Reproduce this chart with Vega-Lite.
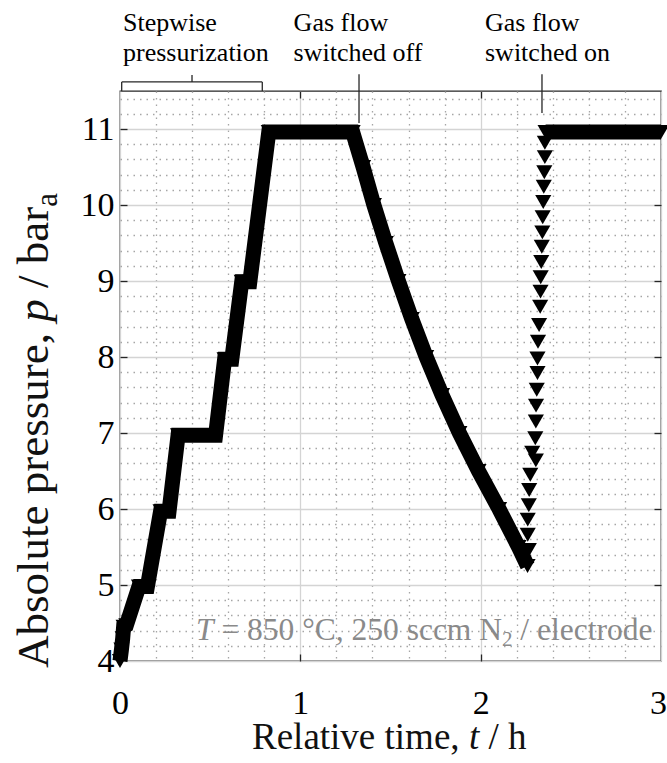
{
  "$schema": "https://vega.github.io/schema/vega-lite/v6.json",
  "width": 541,
  "height": 570,
  "autosize": {"type": "none"},
  "padding": {"left": 120, "top": 91, "right": 6, "bottom": 102},
  "config": {"view": {"stroke": "#262626", "strokeWidth": 1.3}, "font": "Liberation Serif"},
  "datasets": {
    "traj": [
      {"t": 0.0, "p": 4.0, "seg": "a"},
      {"t": 0.008, "p": 4.15, "seg": "a"},
      {"t": 0.015, "p": 4.3, "seg": "a"},
      {"t": 0.02, "p": 4.45, "seg": "a"},
      {"t": 0.035, "p": 4.47, "seg": "a"},
      {"t": 0.105, "p": 4.98, "seg": "a"},
      {"t": 0.152, "p": 4.98, "seg": "a"},
      {"t": 0.225, "p": 5.97, "seg": "a"},
      {"t": 0.272, "p": 5.97, "seg": "a"},
      {"t": 0.322, "p": 6.97, "seg": "a"},
      {"t": 0.53, "p": 6.97, "seg": "a"},
      {"t": 0.58, "p": 7.97, "seg": "a"},
      {"t": 0.62, "p": 7.97, "seg": "a"},
      {"t": 0.675, "p": 8.99, "seg": "a"},
      {"t": 0.72, "p": 8.99, "seg": "a"},
      {"t": 0.825, "p": 10.96, "seg": "a"},
      {"t": 1.29, "p": 10.96, "seg": "a"},
      {"t": 1.348, "p": 10.5, "seg": "a"},
      {"t": 1.408, "p": 10.0, "seg": "a"},
      {"t": 1.474, "p": 9.5, "seg": "a"},
      {"t": 1.544, "p": 9.0, "seg": "a"},
      {"t": 1.618, "p": 8.5, "seg": "a"},
      {"t": 1.698, "p": 8.0, "seg": "a"},
      {"t": 1.786, "p": 7.5, "seg": "a"},
      {"t": 1.882, "p": 7.0, "seg": "a"},
      {"t": 1.988, "p": 6.5, "seg": "a"},
      {"t": 2.102, "p": 6.0, "seg": "a"},
      {"t": 2.21, "p": 5.5, "seg": "a"},
      {"t": 2.26, "p": 5.25, "seg": "a"},
      {"t": 2.267, "p": 5.46, "seg": "b"},
      {"t": 2.261, "p": 5.66, "seg": "b"},
      {"t": 2.261, "p": 5.86, "seg": "b"},
      {"t": 2.267, "p": 6.05, "seg": "b"},
      {"t": 2.269, "p": 6.25, "seg": "b"},
      {"t": 2.275, "p": 6.45, "seg": "b"},
      {"t": 2.306, "p": 6.64, "seg": "b"},
      {"t": 2.286, "p": 6.74, "seg": "b"},
      {"t": 2.303, "p": 6.93, "seg": "b"},
      {"t": 2.306, "p": 7.15, "seg": "b"},
      {"t": 2.307, "p": 7.36, "seg": "b"},
      {"t": 2.311, "p": 7.57, "seg": "b"},
      {"t": 2.315, "p": 7.79, "seg": "b"},
      {"t": 2.315, "p": 7.98, "seg": "b"},
      {"t": 2.318, "p": 8.2, "seg": "b"},
      {"t": 2.324, "p": 8.42, "seg": "b"},
      {"t": 2.33, "p": 8.66, "seg": "b"},
      {"t": 2.332, "p": 8.86, "seg": "b"},
      {"t": 2.333, "p": 9.05, "seg": "b"},
      {"t": 2.336, "p": 9.25, "seg": "b"},
      {"t": 2.339, "p": 9.45, "seg": "b"},
      {"t": 2.342, "p": 9.64, "seg": "b"},
      {"t": 2.344, "p": 9.84, "seg": "b"},
      {"t": 2.347, "p": 10.04, "seg": "b"},
      {"t": 2.35, "p": 10.24, "seg": "b"},
      {"t": 2.353, "p": 10.43, "seg": "b"},
      {"t": 2.356, "p": 10.63, "seg": "b"},
      {"t": 2.356, "p": 10.82, "seg": "b"},
      {"t": 2.36, "p": 10.96, "seg": "c"},
      {"t": 3.0, "p": 10.96, "seg": "c"}
    ],
    "brk": [
      {"x1": 0.0094, "x2": 0.789, "y1": 11.62, "y2": 11.62},
      {"x1": 0.0094, "x2": 0.0094, "y1": 11.62, "y2": 11.5},
      {"x1": 0.789, "x2": 0.789, "y1": 11.62, "y2": 11.5},
      {"x1": 0.3993, "x2": 0.3993, "y1": 11.62, "y2": 11.71},
      {"x1": 1.3254, "x2": 1.3254, "y1": 11.72, "y2": 11.08},
      {"x1": 2.34, "x2": 2.34, "y1": 11.72, "y2": 11.21}
    ],
    "txt": [
      {"t": 0.0166, "p": 12.289, "s": "Stepwise", "grp": "ann"},
      {"t": 0.0166, "p": 11.895, "s": "pressurization", "grp": "ann"},
      {"t": 0.9627, "p": 12.289, "s": "Gas flow", "grp": "ann"},
      {"t": 0.9627, "p": 11.895, "s": "switched off", "grp": "ann"},
      {"t": 2.024, "p": 12.289, "s": "Gas flow", "grp": "ann"},
      {"t": 2.024, "p": 11.895, "s": "switched on", "grp": "ann"},
      {"t": -0.3993, "p": 3.908, "s": "Absolute pressure,", "grp": "yt"},
      {"t": -0.3993, "p": 8.463, "s": "p", "grp": "ytI"},
      {"t": -0.3993, "p": 8.908, "s": "/ bar", "grp": "yt"},
      {"t": -0.3494, "p": 9.976, "s": "a", "grp": "ysub"},
      {"t": 0.732, "p": 2.836, "s": "Relative time,", "grp": "xt"},
      {"t": 1.9348, "p": 2.836, "s": "t", "grp": "xtI"},
      {"t": 2.043, "p": 2.836, "s": "/ h", "grp": "xt"},
      {"t": 0.4214, "p": 4.276, "s": "T", "grp": "gI"},
      {"t": 0.5623, "p": 4.276, "s": "= 850 °C, 250 sccm N", "grp": "g"},
      {"t": 2.118, "p": 4.197, "s": "2", "grp": "gsub"},
      {"t": 2.2201, "p": 4.276, "s": "/ electrode", "grp": "g"}
    ]
  },
  "layer": [
    {
      "data": {"name": "traj"},
      "transform": [{"filter": "datum.seg !== 'b'"}],
      "mark": {"type": "line", "color": "black", "strokeWidth": 15, "strokeJoin": "miter", "strokeCap": "butt"},
      "encoding": {
        "x": {
          "field": "t", "type": "quantitative",
          "scale": {"domain": [0, 3], "nice": false, "zero": false},
          "axis": {
            "orient": "bottom",
            "values": [0, 0.2, 0.4, 0.6, 0.8, 1, 1.2, 1.4, 1.6, 1.8, 2, 2.2, 2.4, 2.6, 2.8, 3],
            "labelExpr": "datum.value % 1 === 0 ? format(datum.value, 'd') : ''",
            "grid": true,
            "gridColor": {"condition": {"test": "datum.value % 1 === 0", "value": "#d4d4d4"}, "value": "#a6a6a6"},
            "gridDash": {"condition": {"test": "datum.value % 1 === 0", "value": []}, "value": [1.5, 5]},
            "gridWidth": 1.3,
            "domain": false,
            "tickSize": -7,
            "tickColor": "#262626",
            "tickWidth": 1.3,
            "tickOpacity": {"condition": {"test": "datum.value % 1 === 0 && datum.value > 0 && datum.value < 3", "value": 1}, "value": 0},
            "labelFont": "Liberation Serif",
            "labelFontSize": 34,
            "labelColor": "black",
            "labelBaseline": "alphabetic",
            "labelPadding": 59,
            "labelOffset": {"condition": {"test": "datum.value === 3", "value": -3}, "value": 0},
            "labelFlush": false,
            "labelOverlap": false,
            "title": null
          }
        },
        "y": {
          "field": "p", "type": "quantitative",
          "scale": {"domain": [4, 11.5], "nice": false, "zero": false},
          "axis": {
            "orient": "left",
            "values": [4, 4.2, 4.4, 4.6, 4.8, 5, 5.2, 5.4, 5.6, 5.8, 6, 6.2, 6.4, 6.6, 6.8, 7, 7.2, 7.4, 7.6, 7.8, 8, 8.2, 8.4, 8.6, 8.8, 9, 9.2, 9.4, 9.6, 9.8, 10, 10.2, 10.4, 10.6, 10.8, 11, 11.2, 11.4],
            "labelExpr": "datum.value % 1 === 0 ? format(datum.value, 'd') : ''",
            "grid": true,
            "gridColor": {"condition": {"test": "datum.value % 1 === 0", "value": "#d4d4d4"}, "value": "#a6a6a6"},
            "gridDash": {"condition": {"test": "datum.value % 1 === 0", "value": []}, "value": [1.5, 5]},
            "gridWidth": 1.3,
            "domain": false,
            "tickSize": -7,
            "tickColor": "#262626",
            "tickWidth": 1.3,
            "tickOpacity": {"condition": {"test": "datum.value % 1 === 0 && datum.value > 4", "value": 1}, "value": 0},
            "labelFont": "Liberation Serif",
            "labelFontSize": 34,
            "labelColor": "black",
            "labelPadding": 13,
            "labelFlush": false,
            "labelOverlap": false,
            "title": null
          }
        },
        "detail": {"field": "seg"}
      }
    },
    {
      "data": {"name": "traj"},
      "mark": {"type": "point", "shape": "triangle-down", "filled": true, "color": "black", "opacity": 1, "size": 260, "strokeWidth": 0},
      "encoding": {
        "x": {
          "field": "t", "type": "quantitative",
          "scale": {"domain": [0, 3], "nice": false, "zero": false},
          "axis": {"orient": "top", "values": [1, 2], "labels": false, "grid": false, "domain": false, "tickSize": -7, "tickColor": "#262626", "tickWidth": 1.3, "title": null}
        },
        "y": {
          "field": "p", "type": "quantitative",
          "scale": {"domain": [4, 11.5], "nice": false, "zero": false},
          "axis": {"orient": "right", "values": [5, 6, 7, 8, 9, 10, 11], "labels": false, "grid": false, "domain": false, "tickSize": -7, "tickColor": "#262626", "tickWidth": 1.3, "title": null}
        }
      }
    },
    {
      "data": {"name": "brk"},
      "mark": {"type": "rule", "color": "#262626", "strokeWidth": 1.3},
      "encoding": {
        "x": {"field": "x1", "type": "quantitative", "scale": {"domain": [0, 3], "nice": false, "zero": false}, "axis": null},
        "x2": {"field": "x2"},
        "y": {"field": "y1", "type": "quantitative", "scale": {"domain": [4, 11.5], "nice": false, "zero": false}, "axis": null},
        "y2": {"field": "y2"}
      }
    },
    {
      "data": {"name": "txt"},
      "transform": [{"filter": "datum.grp === 'ann'"}],
      "mark": {"type": "text", "font": "Liberation Serif", "fontSize": 26, "align": "left", "baseline": "alphabetic", "color": "black"},
      "encoding": {
        "x": {"field": "t", "type": "quantitative", "scale": {"domain": [0, 3], "nice": false, "zero": false}, "axis": null},
        "y": {"field": "p", "type": "quantitative", "scale": {"domain": [4, 11.5], "nice": false, "zero": false}, "axis": null},
        "text": {"field": "s"}
      }
    },
    {
      "data": {"name": "txt"},
      "transform": [{"filter": "datum.grp === 'yt'"}],
      "mark": {"type": "text", "font": "Liberation Serif", "fontSize": 45, "align": "left", "baseline": "alphabetic", "angle": 270, "color": "#111111"},
      "encoding": {
        "x": {"field": "t", "type": "quantitative", "scale": {"domain": [0, 3], "nice": false, "zero": false}, "axis": null},
        "y": {"field": "p", "type": "quantitative", "scale": {"domain": [4, 11.5], "nice": false, "zero": false}, "axis": null},
        "text": {"field": "s"}
      }
    },
    {
      "data": {"name": "txt"},
      "transform": [{"filter": "datum.grp === 'ytI'"}],
      "mark": {"type": "text", "font": "Liberation Serif", "fontStyle": "italic", "fontSize": 45, "align": "left", "baseline": "alphabetic", "angle": 270, "color": "#111111"},
      "encoding": {
        "x": {"field": "t", "type": "quantitative", "scale": {"domain": [0, 3], "nice": false, "zero": false}, "axis": null},
        "y": {"field": "p", "type": "quantitative", "scale": {"domain": [4, 11.5], "nice": false, "zero": false}, "axis": null},
        "text": {"field": "s"}
      }
    },
    {
      "data": {"name": "txt"},
      "transform": [{"filter": "datum.grp === 'ysub'"}],
      "mark": {"type": "text", "font": "Liberation Serif", "fontSize": 31, "align": "left", "baseline": "alphabetic", "angle": 270, "color": "#111111"},
      "encoding": {
        "x": {"field": "t", "type": "quantitative", "scale": {"domain": [0, 3], "nice": false, "zero": false}, "axis": null},
        "y": {"field": "p", "type": "quantitative", "scale": {"domain": [4, 11.5], "nice": false, "zero": false}, "axis": null},
        "text": {"field": "s"}
      }
    },
    {
      "data": {"name": "txt"},
      "transform": [{"filter": "datum.grp === 'xt'"}],
      "mark": {"type": "text", "font": "Liberation Serif", "fontSize": 37, "align": "left", "baseline": "alphabetic", "color": "#111111"},
      "encoding": {
        "x": {"field": "t", "type": "quantitative", "scale": {"domain": [0, 3], "nice": false, "zero": false}, "axis": null},
        "y": {"field": "p", "type": "quantitative", "scale": {"domain": [4, 11.5], "nice": false, "zero": false}, "axis": null},
        "text": {"field": "s"}
      }
    },
    {
      "data": {"name": "txt"},
      "transform": [{"filter": "datum.grp === 'xtI'"}],
      "mark": {"type": "text", "font": "Liberation Serif", "fontStyle": "italic", "fontSize": 37, "align": "left", "baseline": "alphabetic", "color": "#111111"},
      "encoding": {
        "x": {"field": "t", "type": "quantitative", "scale": {"domain": [0, 3], "nice": false, "zero": false}, "axis": null},
        "y": {"field": "p", "type": "quantitative", "scale": {"domain": [4, 11.5], "nice": false, "zero": false}, "axis": null},
        "text": {"field": "s"}
      }
    },
    {
      "data": {"name": "txt"},
      "transform": [{"filter": "datum.grp === 'g'"}],
      "mark": {"type": "text", "font": "Liberation Serif", "fontSize": 31.5, "align": "left", "baseline": "alphabetic", "color": "#8a8a8a"},
      "encoding": {
        "x": {"field": "t", "type": "quantitative", "scale": {"domain": [0, 3], "nice": false, "zero": false}, "axis": null},
        "y": {"field": "p", "type": "quantitative", "scale": {"domain": [4, 11.5], "nice": false, "zero": false}, "axis": null},
        "text": {"field": "s"}
      }
    },
    {
      "data": {"name": "txt"},
      "transform": [{"filter": "datum.grp === 'gI'"}],
      "mark": {"type": "text", "font": "Liberation Serif", "fontStyle": "italic", "fontSize": 31.5, "align": "left", "baseline": "alphabetic", "color": "#8a8a8a"},
      "encoding": {
        "x": {"field": "t", "type": "quantitative", "scale": {"domain": [0, 3], "nice": false, "zero": false}, "axis": null},
        "y": {"field": "p", "type": "quantitative", "scale": {"domain": [4, 11.5], "nice": false, "zero": false}, "axis": null},
        "text": {"field": "s"}
      }
    },
    {
      "data": {"name": "txt"},
      "transform": [{"filter": "datum.grp === 'gsub'"}],
      "mark": {"type": "text", "font": "Liberation Serif", "fontSize": 21, "align": "left", "baseline": "alphabetic", "color": "#8a8a8a"},
      "encoding": {
        "x": {"field": "t", "type": "quantitative", "scale": {"domain": [0, 3], "nice": false, "zero": false}, "axis": null},
        "y": {"field": "p", "type": "quantitative", "scale": {"domain": [4, 11.5], "nice": false, "zero": false}, "axis": null},
        "text": {"field": "s"}
      }
    }
  ],
  "resolve": {"axis": {"x": "independent", "y": "independent"}}
}
